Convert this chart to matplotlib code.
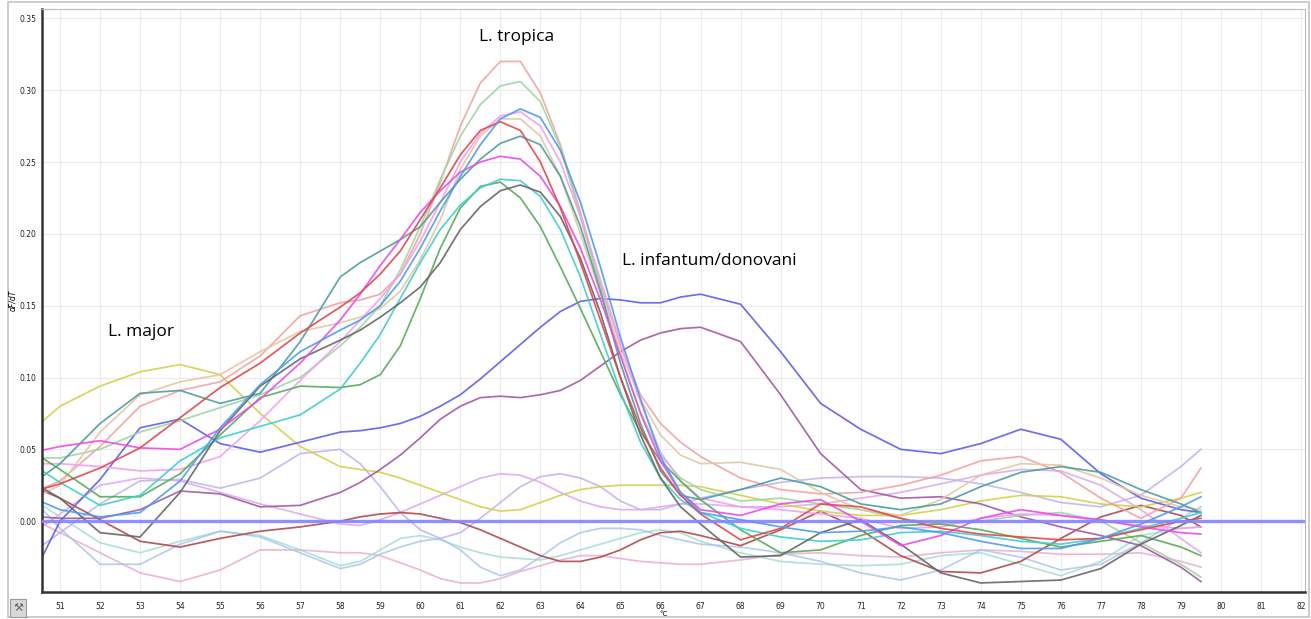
"""Melt-curve derivative plot (dF/dT vs temperature) for Leishmania species HRM."""
import matplotlib

matplotlib.use("Agg")
import matplotlib.pyplot as plt
from matplotlib.patches import Rectangle

# temperature grid (deg C) shared by every curve
TEMP_C = [50.5, 51, 52, 53, 54, 55, 56, 57, 58,
          58.5, 59, 59.5, 60, 60.5, 61, 61.5, 62, 62.5,
          63, 63.5, 64, 64.5, 65, 65.5, 66, 66.5, 67,
          68, 69, 70, 71, 72, 73, 74, 75, 76, 77, 78, 79, 79.5]

# --- L. tropica samples ---
salmon = [0.022, 0.028, 0.052, 0.080, 0.091, 0.097, 0.115, 0.143, 0.152,
          0.154, 0.158, 0.172, 0.200, 0.236, 0.275, 0.305, 0.320, 0.320,
          0.298, 0.262, 0.215, 0.165, 0.122, 0.088, 0.068, 0.055, 0.045,
          0.030, 0.022, 0.019, 0.020, 0.025, 0.032, 0.042, 0.045, 0.034, 0.016, 0.002, 0.016, 0.037]
light_green = [0.044, 0.044, 0.050, 0.062, 0.070, 0.079, 0.088, 0.100, 0.122,
               0.135, 0.150, 0.175, 0.205, 0.238, 0.268, 0.290, 0.303, 0.306,
               0.292, 0.260, 0.212, 0.162, 0.116, 0.076, 0.046, 0.030, 0.022,
               0.014, 0.016, 0.012, 0.008, 0.002, -0.002, 0.000, 0.004, 0.006, 0.000, -0.015, -0.030, -0.039]
sky_blue = [0.014, 0.008, 0.003, 0.006, 0.028, 0.065, 0.095, 0.118, 0.133,
            0.140, 0.150, 0.167, 0.190, 0.216, 0.240, 0.262, 0.280, 0.287,
            0.281, 0.258, 0.222, 0.177, 0.128, 0.085, 0.045, 0.020, 0.006,
            0.001, -0.004, -0.008, -0.007, -0.004, -0.008, -0.014, -0.019, -0.019, -0.012, -0.002, 0.010, 0.017]
pink = [0.040, 0.040, 0.038, 0.035, 0.036, 0.045, 0.070, 0.098, 0.125,
        0.140, 0.155, 0.172, 0.195, 0.222, 0.250, 0.270, 0.282, 0.285,
        0.275, 0.250, 0.212, 0.168, 0.124, 0.083, 0.048, 0.028, 0.016,
        0.010, 0.008, 0.005, 0.002, -0.005, -0.004, 0.002, 0.005, 0.004, 0.000, -0.003, -0.005, -0.004]
tan = [0.018, 0.025, 0.062, 0.088, 0.097, 0.102, 0.118, 0.132, 0.138,
       0.142, 0.148, 0.160, 0.182, 0.210, 0.245, 0.268, 0.280, 0.280,
       0.268, 0.240, 0.200, 0.158, 0.118, 0.085, 0.060, 0.046, 0.040,
       0.041, 0.036, 0.020, 0.008, 0.004, 0.015, 0.032, 0.040, 0.039, 0.030, 0.018, 0.010, 0.008]
red = [0.022, 0.026, 0.037, 0.051, 0.072, 0.093, 0.110, 0.131, 0.149,
       0.159, 0.172, 0.188, 0.210, 0.232, 0.255, 0.272, 0.278, 0.272,
       0.250, 0.218, 0.180, 0.140, 0.100, 0.065, 0.037, 0.018, 0.005,
       -0.013, -0.005, 0.012, 0.010, 0.002, -0.005, -0.009, -0.011, -0.013, -0.012, -0.006, 0.000, 0.002]
teal = [0.030, 0.040, 0.068, 0.089, 0.091, 0.082, 0.089, 0.125, 0.170,
        0.180, 0.188, 0.196, 0.205, 0.222, 0.238, 0.252, 0.263, 0.268,
        0.262, 0.240, 0.205, 0.160, 0.110, 0.068, 0.035, 0.018, 0.015,
        0.022, 0.030, 0.024, 0.012, 0.008, 0.012, 0.024, 0.034, 0.038, 0.034, 0.022, 0.012, 0.006]
magenta = [0.049, 0.052, 0.056, 0.051, 0.050, 0.064, 0.085, 0.110, 0.140,
           0.158, 0.178, 0.196, 0.215, 0.230, 0.243, 0.250, 0.254, 0.252,
           0.240, 0.219, 0.190, 0.154, 0.115, 0.075, 0.042, 0.020, 0.008,
           0.004, 0.012, 0.015, 0.000, -0.017, -0.010, 0.002, 0.008, 0.004, 0.001, -0.004, -0.008, -0.009]
cyan = [0.036, 0.027, 0.011, 0.018, 0.042, 0.058, 0.066, 0.074, 0.092,
        0.110, 0.130, 0.155, 0.180, 0.203, 0.220, 0.232, 0.238, 0.237,
        0.226, 0.203, 0.170, 0.130, 0.090, 0.055, 0.030, 0.015, 0.006,
        -0.005, -0.011, -0.014, -0.013, -0.008, -0.007, -0.010, -0.014, -0.016, -0.012, -0.005, 0.002, 0.006]
green = [0.045, 0.036, 0.017, 0.017, 0.033, 0.060, 0.086, 0.094, 0.093,
         0.095, 0.102, 0.122, 0.155, 0.190, 0.218, 0.233, 0.236, 0.225,
         0.205, 0.177, 0.148, 0.118, 0.088, 0.062, 0.042, 0.028, 0.015,
         -0.006, -0.022, -0.020, -0.010, -0.003, -0.002, -0.006, -0.012, -0.018, -0.014, -0.010, -0.018, -0.024]
gray = [0.024, 0.016, -0.008, -0.011, 0.020, 0.063, 0.094, 0.113, 0.126,
        0.133, 0.142, 0.152, 0.163, 0.180, 0.203, 0.219, 0.230, 0.234,
        0.229, 0.212, 0.183, 0.145, 0.100, 0.060, 0.030, 0.010, -0.002,
        -0.025, -0.024, -0.008, 0.001, -0.016, -0.036, -0.043, -0.042, -0.041, -0.033, -0.016, -0.003, 0.004]

# --- L. infantum/donovani samples ---
infantum_blue = [-0.028, 0.000, 0.029, 0.065, 0.071, 0.054, 0.048, 0.055, 0.062,
                 0.063, 0.065, 0.068, 0.073, 0.080, 0.088, 0.099, 0.111, 0.123,
                 0.135, 0.146, 0.153, 0.155, 0.154, 0.152, 0.152, 0.156, 0.158,
                 0.151, 0.118, 0.082, 0.064, 0.050, 0.047, 0.054, 0.064, 0.057, 0.033, 0.016, 0.008, 0.006]
purple = [0.003, 0.002, 0.002, 0.008, 0.021, 0.019, 0.010, 0.011, 0.020,
          0.027, 0.036, 0.046, 0.058, 0.071, 0.080, 0.086, 0.087, 0.086,
          0.088, 0.091, 0.098, 0.108, 0.118, 0.126, 0.131, 0.134, 0.135,
          0.125, 0.088, 0.047, 0.022, 0.016, 0.017, 0.012, 0.003, -0.004, -0.010, -0.017, -0.032, -0.042]

# --- L. major sample ---
yellow = [0.068, 0.080, 0.094, 0.104, 0.109, 0.102, 0.075, 0.052, 0.038,
          0.036, 0.034, 0.030, 0.025, 0.020, 0.015, 0.010, 0.007, 0.008,
          0.013, 0.018, 0.022, 0.024, 0.025, 0.025, 0.025, 0.025, 0.024,
          0.018, 0.012, 0.007, 0.004, 0.004, 0.008, 0.014, 0.018, 0.017, 0.012, 0.010, 0.016, 0.020]

# --- negatives / background wells ---
dark_red = [0.022, 0.016, 0.001, -0.014, -0.018, -0.012, -0.007, -0.004, 0.000,
            0.003, 0.005, 0.006, 0.005, 0.002, -0.001, -0.006, -0.012, -0.018,
            -0.024, -0.028, -0.028, -0.025, -0.020, -0.013, -0.008, -0.007, -0.010,
            -0.017, -0.006, 0.007, -0.006, -0.024, -0.035, -0.036, -0.028, -0.012, 0.003, 0.011, 0.004, -0.004]
pale_blue = [0.010, -0.005, -0.030, -0.030, -0.016, -0.007, -0.011, -0.022, -0.033,
             -0.030, -0.023, -0.018, -0.014, -0.012, -0.020, -0.032, -0.038, -0.034,
             -0.025, -0.015, -0.008, -0.005, -0.005, -0.006, -0.010, -0.013, -0.016,
             -0.018, -0.022, -0.028, -0.036, -0.041, -0.034, -0.020, -0.025, -0.034, -0.030, -0.015, 0.002, 0.010]
mint = [0.012, 0.003, -0.015, -0.022, -0.014, -0.007, -0.010, -0.020, -0.031,
        -0.028, -0.020, -0.012, -0.010, -0.013, -0.018, -0.022, -0.025, -0.026,
        -0.027, -0.024, -0.020, -0.016, -0.012, -0.008, -0.006, -0.008, -0.014,
        -0.022, -0.028, -0.030, -0.031, -0.030, -0.024, -0.022, -0.030, -0.038, -0.028, -0.010, -0.005, -0.004]
rose = [-0.001, -0.008, -0.022, -0.036, -0.042, -0.034, -0.020, -0.020, -0.022,
        -0.022, -0.024, -0.029, -0.034, -0.040, -0.043, -0.043, -0.040, -0.035,
        -0.031, -0.027, -0.024, -0.024, -0.026, -0.028, -0.029, -0.030, -0.030,
        -0.027, -0.023, -0.022, -0.024, -0.025, -0.022, -0.020, -0.021, -0.023, -0.023, -0.022, -0.028, -0.032]
lavender = [-0.018, -0.008, 0.012, 0.028, 0.029, 0.023, 0.030, 0.047, 0.050,
            0.040, 0.024, 0.006, -0.006, -0.012, -0.008, 0.002, 0.013, 0.024,
            0.031, 0.033, 0.030, 0.024, 0.014, 0.008, 0.008, 0.012, 0.016,
            0.022, 0.027, 0.030, 0.031, 0.031, 0.030, 0.026, 0.020, 0.013, 0.010, 0.018, 0.038, 0.050]
orchid = [-0.005, 0.005, 0.025, 0.030, 0.028, 0.020, 0.012, 0.005, -0.002,
          -0.003, 0.001, 0.006, 0.012, 0.018, 0.024, 0.030, 0.033, 0.032,
          0.027, 0.020, 0.014, 0.010, 0.008, 0.008, 0.010, 0.012, 0.012,
          0.010, 0.010, 0.012, 0.016, 0.020, 0.026, 0.032, 0.036, 0.035, 0.025, 0.008, -0.012, -0.022]

X_TICKS = list(range(51, 83))
Y_TICKS = [0.00, 0.05, 0.10, 0.15, 0.20, 0.25, 0.30, 0.35]
THRESHOLD = 0.0

# (series, colour, alpha) -- background wells first so peaks sit on top
CURVES = [
    (rose, "#e9a9c9", 0.8), (mint, "#9fdccf", 0.8), (pale_blue, "#a7c2ee", 0.8),
    (lavender, "#bdb2f2", 0.85), (orchid, "#dca6f0", 0.85), (dark_red, "#b04a4a", 0.9),
    (yellow, "#d2d24e", 0.9), (purple, "#a25aa2", 0.9), (infantum_blue, "#5e5ef0", 0.9),
    (salmon, "#f39d9d", 0.85), (light_green, "#9fd69f", 0.9), (tan, "#e4c7a3", 0.9),
    (pink, "#f19ff1", 0.9), (teal, "#4a9e9e", 0.9), (green, "#55ad55", 0.9),
    (cyan, "#3ecfcf", 0.9), (gray, "#666666", 0.9), (magenta, "#ec4aec", 0.9),
    (red, "#e64646", 0.9), (sky_blue, "#4a9cf2", 0.9),
]

W, H = 1311, 619
fig = plt.figure(figsize=(W / 100, H / 100), dpi=100)
fig.patch.set_facecolor("white")

# window-like frame and the small tool button bottom-left
fig.patches.append(Rectangle((8 / W, 2 / H), 1301 / W, 615 / H, transform=fig.transFigure,
                             fill=False, edgecolor="#c4c4c4", lw=1.2))
fig.patches.append(Rectangle((10 / W, 2 / H), 16 / W, 18 / H, transform=fig.transFigure,
                             facecolor="#d8d8d8", edgecolor="#9a9a9a", lw=0.8))
fig.text(18 / W, 11 / H, "\u2692", fontsize=8, color="#666666", ha="center", va="center")

ax = fig.add_axes([42 / W, 27 / H, 1263 / W, 583 / H])
ax.set_xlim(50.55, 82.1)
ax.set_ylim(-0.0493, 0.3565)

ax.set_xticks(X_TICKS)
ax.set_yticks(Y_TICKS)
ax.set_yticklabels([f"{v:.2f}" for v in Y_TICKS])
ax.tick_params(length=0, labelsize=5.5, labelcolor="#222222")
ax.tick_params(axis="x", pad=7)
ax.tick_params(axis="y", pad=4)
ax.grid(True, color="#ebebeb", lw=0.8)
ax.set_axisbelow(True)

for side in ("left", "bottom"):
    ax.spines[side].set_color("#333333")
    ax.spines[side].set_linewidth(1.8)
for side in ("top", "right"):
    ax.spines[side].set_color("#bbbbbb")
    ax.spines[side].set_linewidth(0.8)

for values, colour, alpha in CURVES:
    ax.plot(TEMP_C, values, color=colour, lw=1.25, alpha=alpha, solid_joinstyle="round")

ax.axhline(THRESHOLD, color="#8484ff", lw=2.4, alpha=0.9, zorder=5)

ax.text(62.4, 0.337, "L. tropica", fontsize=12.5, family="Open Sans", ha="center", va="center")
ax.text(65.05, 0.181, "L. infantum/donovani", fontsize=12.5, family="Open Sans", ha="left", va="center")
ax.text(52.2, 0.132, "L. major", fontsize=12.5, family="Open Sans", ha="left", va="center")

fig.text(13 / W, 1 - 300 / H, "dF/dT", rotation=90, fontsize=5.5, ha="center", va="center",
         style="italic")
fig.text(663 / W, 1 - 614 / H, "\u00b0C", fontsize=5, ha="center", va="center")

fig.savefig("out.png", dpi=100)
